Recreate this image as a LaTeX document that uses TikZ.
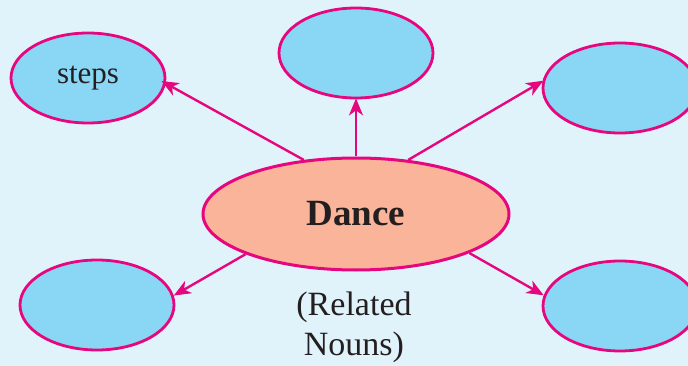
\documentclass[tikz,border=0pt]{standalone}
\usepackage{fontspec}
\setmainfont{Liberation Serif}
\usetikzlibrary{shapes.geometric,arrows.meta}
\definecolor{bgblue}{HTML}{E1F3FA}
\definecolor{cyanfill}{HTML}{8AD7F5}
\definecolor{magline}{HTML}{E6077F}
\definecolor{salmon}{HTML}{F9B49A}
\definecolor{ink}{HTML}{231F20}
\tikzset{
  bubble/.style={ellipse, draw=magline, line width=2.8pt, fill=cyanfill, inner sep=0pt,
    minimum width=154pt, minimum height=90pt, text=ink, font=\fontsize{31}{31}\selectfont},
  hub/.style={ellipse, draw=magline, line width=3pt, fill=salmon, inner sep=0pt,
    minimum width=306pt, minimum height=112pt, text=ink, font=\fontsize{37}{37}\selectfont\bfseries},
  link/.style={draw=magline, line width=2.4pt, -{Stealth[length=17pt,width=14pt,inset=5pt]}},
  caption/.style={text=ink, font=\fontsize{34}{40}\selectfont, align=center, inner sep=0pt}
}
\begin{document}
\begin{tikzpicture}[x=1pt,y=-1pt]
\fill[bgblue] (0,0) rectangle (688,366);
\useasboundingbox (0,0) rectangle (688,366);
\node[bubble] (steps) at (88,78) {steps};
\node[bubble] (top) at (356,53) {};
\node[bubble] (tr) at (620,88) {};
\node[bubble] (bl) at (97,305) {};
\node[bubble] (br) at (620,306) {};
\node[hub] (c) at (356,214) {Dance};
\node[caption, anchor=base] (cap) at (354,355) {(Related\\Nouns)};
\draw[link, shorten >=-5pt] (c.134) -- (steps.-4);
\draw[link, shorten >=-1pt] (c.90) -- (top.south);
\draw[link, shorten >=-1pt] (c.46.6) -- (tr.175.6);
\draw[link] (c.-19.7) -- (br.172.6);
\draw[link] (c.-160.2) -- (bl.7);
\end{tikzpicture}
\end{document}
